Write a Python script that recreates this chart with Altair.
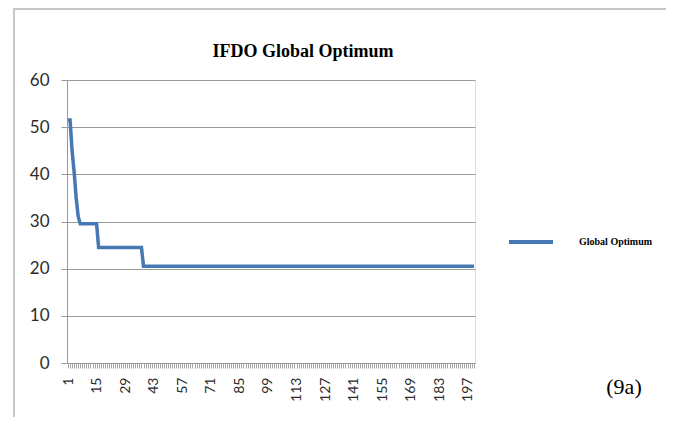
import altair as alt
import pandas as pd

# ---- data ----
iterations = list(range(1, 201))
global_optimum = [51.5, 51.5, 45.0, 40.5, 35.0, 31.0] + [29.5] * 9 + [24.5] * 22 + [20.5] * 163
series_name = "Global Optimum"
x_label_values = list(range(1, 201, 14))
x_tick_values = list(range(1, 201))
y_ticks = [0, 10, 20, 30, 40, 50, 60]
chart_title = "IFDO Global Optimum"
panel_tag = "(9a)"

df = pd.DataFrame({"iteration": iterations, "value": global_optimum, "series": series_name})

W, H = 408, 283
LINE_COLOR = "#4678b4"
GRID = "#9a9a9a"

line = alt.Chart(df).mark_line(strokeWidth=3.5, clip=False).encode(
    x=alt.X(
        "iteration:Q",
        scale=alt.Scale(domain=[0.5, 200.5], nice=False, zero=False),
        axis=alt.Axis(
            title=None,
            values=x_tick_values,
            labelExpr="(datum.value - 1) % 14 == 0 ? datum.label : ''",
            labelAngle=270,
            labelOverlap=False,
            labelFlush=False,
            labelFont="Lato",
            labelFontSize=14,
            labelColor="#2b2b2b",
            labelPadding=9,
            tickSize=5,
            tickColor="#a8a8a8",
            tickWidth=1,
            domainColor=GRID,
            grid=False,
        ),
    ),
    y=alt.Y(
        "value:Q",
        scale=alt.Scale(domain=[0, 60], nice=False),
        axis=alt.Axis(
            title=None,
            values=y_ticks,
            labelFont="Lato",
            labelFontSize=17,
            labelColor="#2b2b2b",
            labelPadding=12,
            tickSize=6,
            tickColor=GRID,
            domainColor=GRID,
            grid=True,
            gridColor=GRID,
            gridWidth=1,
        ),
    ),
    color=alt.Color(
        "series:N",
        scale=alt.Scale(range=[LINE_COLOR]),
        legend=alt.Legend(
            title=None,
            orient="none",
            legendX=440,
            legendY=138,
            padding=0,
            symbolType="stroke",
            symbolSize=1936,
            symbolStrokeWidth=4,
            labelFont="Liberation Serif",
            labelFontWeight="bold",
            labelFontSize=10,
            labelColor="#000000",
            labelOffset=24,
        ),
    ),
)

one = pd.DataFrame({"k": [0]})

frame = alt.Chart(one).mark_rect(
    fill=None, stroke="#c8c8c8", strokeWidth=2, clip=False
).encode(
    x=alt.value(-53), x2=alt.value(700), y=alt.value(-71), y2=alt.value(420)
)

title_mark = alt.Chart(one).mark_text(
    text=chart_title, font="Liberation Serif", fontSize=18, fontWeight="bold",
    align="center", baseline="alphabetic", color="#000000", clip=False
).encode(x=alt.value(236), y=alt.value(-23))

tag = alt.Chart(one).mark_text(
    text=panel_tag, font="Liberation Serif", fontSize=22, align="center",
    baseline="alphabetic", color="#000000", clip=False
).encode(x=alt.value(557), y=alt.value(314))

chart = (
    alt.layer(frame, line, title_mark, tag)
    .properties(
        width=W,
        height=H,
        autosize=alt.AutoSizeParams(type="none"),
        padding={"left": 59, "top": 72, "right": 191, "bottom": 54},
    )
    .configure_view(stroke=None)
    .configure(background="white")
)

chart.save("out.html", embed_options={"renderer": "svg", "actions": False})
